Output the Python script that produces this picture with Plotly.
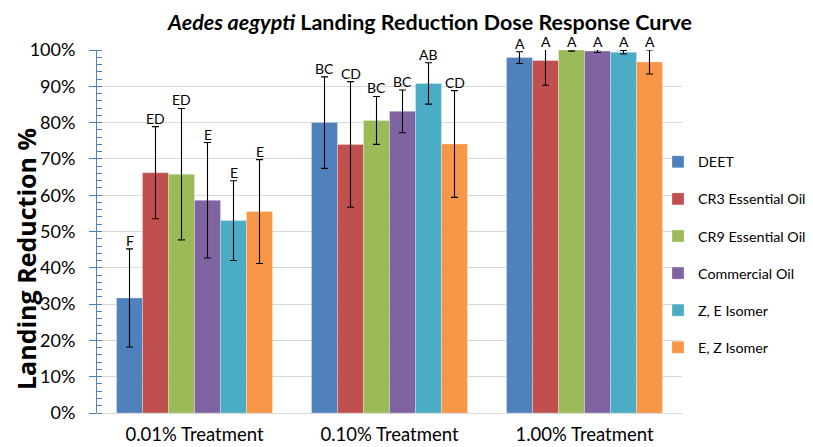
import plotly.graph_objects as go

categories = ["0.01% Treatment", "0.10% Treatment", "1.00% Treatment"]
series_names = ["DEET", "CR3 Essential Oil", "CR9 Essential Oil", "Commercial Oil", "Z, E Isomer", "E, Z Isomer"]
colors = ["#4F81BD", "#C0504D", "#9BBB59", "#8064A2", "#4BACC6", "#F79646"]

deet = [31.7, 80.0, 97.9]
cr3 = [66.2, 74.0, 97.1]
cr9 = [65.8, 80.6, 100.0]
commercial = [58.6, 83.1, 99.7]
ze_isomer = [53.0, 90.8, 99.4]
ez_isomer = [55.5, 74.1, 96.7]

deet_err = [13.5, 12.6, 1.6]
cr3_err = [12.7, 17.3, 6.8]
cr9_err = [18.1, 6.6, 0.3]
commercial_err = [15.9, 5.9, 0.4]
ze_err = [11.0, 5.7, 0.5]
ez_err = [14.3, 14.7, 3.3]

deet_lbl = ["F", "BC", "A"]
cr3_lbl = ["ED", "CD", "A"]
cr9_lbl = ["ED", "BC", "A"]
commercial_lbl = ["E", "BC", "A"]
ze_lbl = ["E", "AB", "A"]
ez_lbl = ["E", "CD", "A"]

values = [deet, cr3, cr9, commercial, ze_isomer, ez_isomer]
errors = [deet_err, cr3_err, cr9_err, commercial_err, ze_err, ez_err]
labels = [deet_lbl, cr3_lbl, cr9_lbl, commercial_lbl, ze_lbl, ez_lbl]

FONT = "Lato"
# the page body adds an 8px offset, so the figure is 8px smaller than the window
W, H = 805, 439
ML, MR, MT, MB = 89, 131, 42, 34
BARGAP = 0.2
plot_w = W - ML - MR
plot_h = H - MT - MB
n = len(series_names)
bar_px = plot_w / len(categories) * (1 - BARGAP) / n

fig = go.Figure()
for i, name in enumerate(series_names):
    fig.add_trace(go.Bar(
        name=name, x=categories, y=values[i],
        marker=dict(color=colors[i], line=dict(color="rgba(255,255,255,0.35)", width=0.8)),
        error_y=dict(type="data", array=errors[i], visible=True, color="black", thickness=1.1, width=3.5),
        legendgroup=name,
    ))
    for j, cat in enumerate(categories):
        top = min(values[i][j] + errors[i][j], 100)
        fig.add_annotation(x=cat, y=top, xref="x", yref="y", text=labels[i][j],
                           showarrow=False, yanchor="bottom", xanchor="center",
                           xshift=(i - (n - 1) / 2) * bar_px, yshift=-2,
                           font=dict(family=FONT, size=14, color="black"))

fig.add_annotation(text="<b>Landing Reduction %</b>", xref="paper", yref="paper",
                   x=(18 - ML) / plot_w, y=(H - MB - 251) / plot_h, textangle=-90, showarrow=False,
                   xanchor="center", yanchor="middle",
                   font=dict(family="Open Sans", size=25, color="black"))

fig.update_layout(
    width=W, height=H,
    margin=dict(l=ML, r=MR, t=MT, b=MB, autoexpand=False),
    paper_bgcolor="white", plot_bgcolor="white",
    barmode="group", bargap=BARGAP, bargroupgap=0,
    title=dict(text="<b><i>Aedes aegypti</i> Landing Reduction Dose Response Curve</b>",
               x=422 / W, y=1 - 14 / H, xanchor="center", yanchor="middle",
               font=dict(family=FONT, size=21.5, color="black")),
    legend=dict(x=(650 - ML) / plot_w, xanchor="left", y=(H - MB - 138) / plot_h, yanchor="top",
                font=dict(family=FONT, size=14.3, color="black"), tracegroupgap=15.5,
                bgcolor="rgba(0,0,0,0)"),
    showlegend=True,
    font=dict(family=FONT, color="black"),
)
fig.update_xaxes(showline=True, linecolor="#D9D9D9", linewidth=1, ticks="", automargin=False,
                 tickfont=dict(family=FONT, size=18.5, color="black"), ticklabelstandoff=5)
fig.update_yaxes(range=[0, 100], dtick=10, ticksuffix="%", showgrid=True, gridcolor="#D9D9D9",
                 showline=True, linecolor="#4F81BD", linewidth=1, automargin=False,
                 ticks="outside", ticklen=7, tickcolor="#4F81BD",
                 minor=dict(dtick=2, ticks="inside", ticklen=5, tickcolor="#4F81BD", showgrid=False),
                 zeroline=False,
                 tickfont=dict(family=FONT, size=18, color="black"), ticklabelstandoff=10)

fig.write_html("out.html")
